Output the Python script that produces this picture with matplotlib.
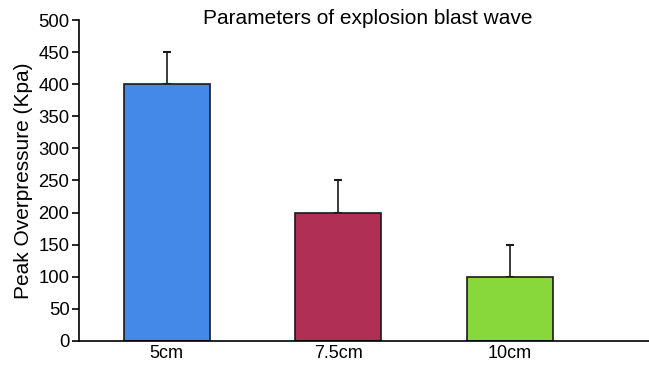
import matplotlib
matplotlib.use("Agg")
import matplotlib.pyplot as plt

plt.rcParams['font.family'] = ['Liberation Sans', 'DejaVu Sans']

categories = ['5cm', '7.5cm', '10cm']
pressure = [400, 200, 100]
err_up = [50, 50, 50]
colors = ['#4488e8', '#b03055', '#88d83c']

fig = plt.figure(figsize=(6.49, 3.65), dpi=100)
ax = fig.add_axes([0.122, 0.066, 0.878, 0.879])

x = list(range(len(categories)))
ax.bar(x, pressure, width=0.5, color=colors, edgecolor='#1a1a1a', linewidth=1.2, zorder=2)
ax.errorbar(x, pressure, yerr=[[0] * len(x), err_up], fmt='none', ecolor='#1a1a1a',
            elinewidth=1.2, capsize=3, capthick=1.5, zorder=1)

ax.set_xlim(-0.51, 2.81)
ax.set_ylim(0, 500)
ax.set_yticks(range(0, 501, 50))
ax.set_xticks(x)
ax.set_xticklabels(categories)
ax.tick_params(axis='x', length=0, pad=3, labelsize=13)
ax.tick_params(axis='y', length=5, width=1.2, pad=2, labelsize=13.3)
for side in ['top', 'right']:
    ax.spines[side].set_visible(False)
for side in ['left', 'bottom']:
    ax.spines[side].set_linewidth(1.2)
ax.set_ylabel('Peak Overpressure (Kpa)', fontsize=15, labelpad=4)
fig.text(0.567, 0.95, 'Parameters of explosion blast wave', ha='center', va='center', fontsize=15)

fig.savefig('out.png', dpi=100)
